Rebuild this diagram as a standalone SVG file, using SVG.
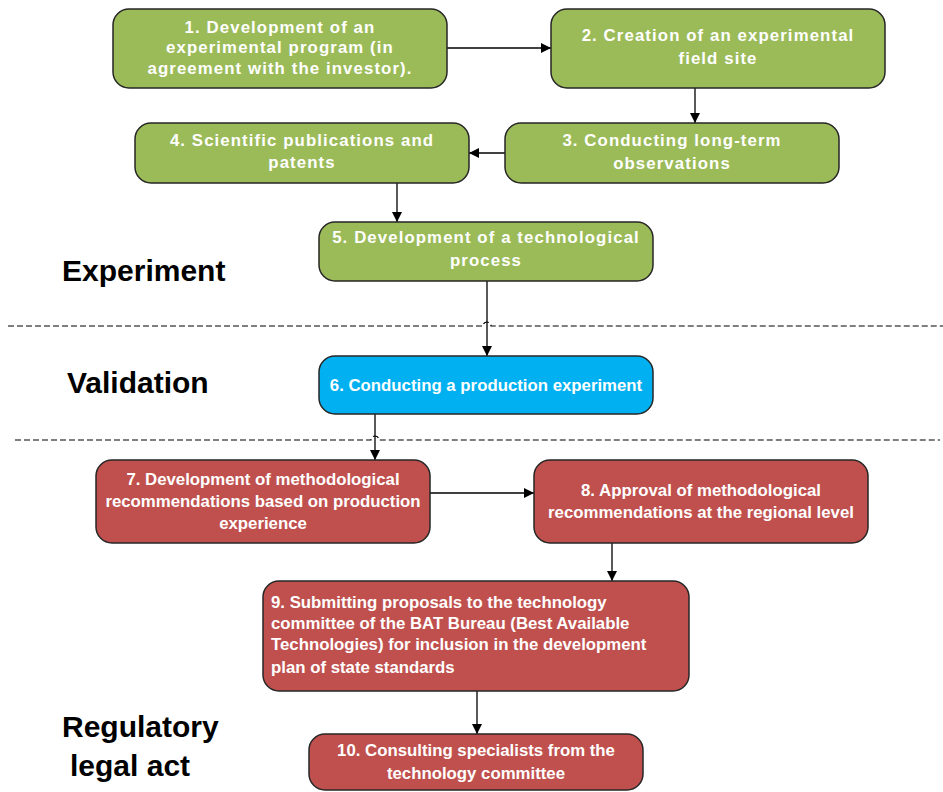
<svg xmlns="http://www.w3.org/2000/svg" width="943" height="792" viewBox="0 0 943 792">
<defs>
<marker id="ah" viewBox="0 0 10 10" refX="10" refY="5" markerWidth="10" markerHeight="10" markerUnits="userSpaceOnUse" orient="auto">
<path d="M0,0 L10,5 L0,10 z" fill="#000"/>
</marker>
<style>
.box{stroke:#262626;stroke-width:1.5}
.g{fill:#9BBB59}
.b{fill:#00B0F0}
.r{fill:#C0504D}
.t{font-family:"Liberation Sans",Arial,sans-serif;font-weight:bold;font-size:16.8px;fill:#fff;text-anchor:middle}
.gt{letter-spacing:1.1px}
.lt{text-anchor:start}
.lbl{font-family:"Liberation Sans",Arial,sans-serif;font-weight:bold;font-size:30px;fill:#000}
.c{stroke:#000;stroke-width:1.3;fill:none}
.d{stroke:#000;stroke-width:1.2;stroke-dasharray:6,3;fill:none}
</style>
</defs>
<rect width="943" height="792" fill="#fff"/>
<g id="separators">
<path class="d" d="M8,326 H483 A4,4 0 0 1 491,326 H943"/>
<path class="d" d="M15,440 H371 A4,4 0 0 1 379,440 H940"/>
</g>
<g id="labels">
<text class="lbl" x="62" y="281">Experiment</text>
<text class="lbl" x="67" y="393">Validation</text>
<text class="lbl" x="62" y="737">Regulatory</text>
<text class="lbl" x="70" y="776">legal act</text>
</g>
<g id="connectors">
<line class="c" x1="447" y1="48" x2="551" y2="48" marker-end="url(#ah)"/>
<line class="c" x1="695" y1="88" x2="695" y2="123" marker-end="url(#ah)"/>
<line class="c" x1="505" y1="153" x2="469" y2="153" marker-end="url(#ah)"/>
<line class="c" x1="397" y1="183" x2="397" y2="222" marker-end="url(#ah)"/>
<line class="c" x1="487" y1="281" x2="487" y2="356" marker-end="url(#ah)"/>
<line class="c" x1="375" y1="414" x2="375" y2="460" marker-end="url(#ah)"/>
<line class="c" x1="430" y1="493" x2="534" y2="493" marker-end="url(#ah)"/>
<line class="c" x1="612" y1="543" x2="612" y2="581" marker-end="url(#ah)"/>
<line class="c" x1="477" y1="691" x2="477" y2="734" marker-end="url(#ah)"/>
</g>
<g id="n1">
<rect class="box g" x="113" y="9" width="334" height="79" rx="16"/>
<text class="t gt" x="280" y="33">1. Development of an</text>
<text class="t gt" x="280" y="53">experimental program (in</text>
<text class="t gt" x="280" y="74">agreement with the investor).</text>
</g>
<g id="n2">
<rect class="box g" x="551" y="9" width="334" height="79" rx="16"/>
<text class="t gt" x="718" y="41">2. Creation of an experimental</text>
<text class="t gt" x="718" y="64">field site</text>
</g>
<g id="n3">
<rect class="box g" x="505" y="123" width="334" height="60" rx="16"/>
<text class="t gt" x="672" y="146">3. Conducting long-term</text>
<text class="t gt" x="672" y="169">observations</text>
</g>
<g id="n4">
<rect class="box g" x="135" y="123" width="334" height="60" rx="16"/>
<text class="t gt" x="302" y="146">4. Scientific publications and</text>
<text class="t gt" x="302" y="168">patents</text>
</g>
<g id="n5">
<rect class="box g" x="319" y="222" width="334" height="59" rx="16"/>
<text class="t gt" x="486" y="243">5. Development of a technological</text>
<text class="t gt" x="486" y="266">process</text>
</g>
<g id="n6">
<rect class="box b" x="319" y="356" width="334" height="58" rx="16"/>
<text class="t" x="486" y="391">6. Conducting a production experiment</text>
</g>
<g id="n7">
<rect class="box r" x="96" y="460" width="334" height="83" rx="16"/>
<text class="t" x="263" y="485">7. Development of methodological</text>
<text class="t" x="263" y="507">recommendations based on production</text>
<text class="t" x="263" y="529">experience</text>
</g>
<g id="n8">
<rect class="box r" x="534" y="460" width="334" height="83" rx="16"/>
<text class="t" x="701" y="496">8. Approval of methodological</text>
<text class="t" x="701" y="518">recommendations at the regional level</text>
</g>
<g id="n9">
<rect class="box r" x="263" y="581" width="426" height="110" rx="16"/>
<text class="t lt" x="271" y="608">9. Submitting proposals to the technology</text>
<text class="t lt" x="271" y="629">committee of the BAT Bureau (Best Available</text>
<text class="t lt" x="271" y="650">Technologies) for inclusion in the development</text>
<text class="t lt" x="271" y="673">plan of state standards</text>
</g>
<g id="n10">
<rect class="box r" x="309" y="734" width="334" height="56" rx="16"/>
<text class="t" x="476" y="756">10. Consulting specialists from the</text>
<text class="t" x="476" y="779">technology committee</text>
</g>
</svg>
